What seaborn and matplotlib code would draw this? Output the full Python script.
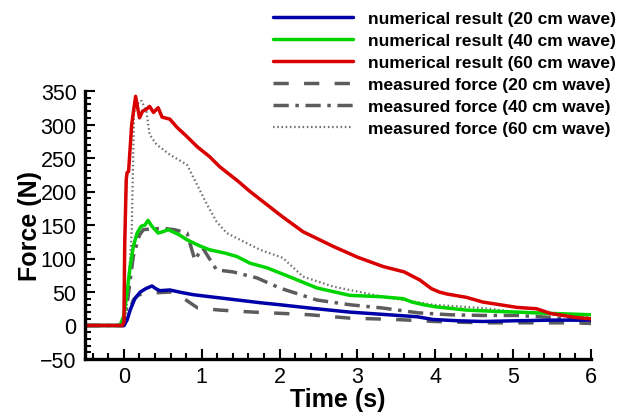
import numpy as np
import pandas as pd
import matplotlib
matplotlib.use("Agg")
import matplotlib.pyplot as plt
from matplotlib.ticker import MultipleLocator
from matplotlib.lines import Line2D
import seaborn as sns

# ---- numerical results ----
t_num20 = [-0.5, 0.0, 0.04, 0.08, 0.14, 0.21, 0.28, 0.36, 0.41, 0.46, 0.59, 0.75, 0.89,
           1.1, 1.32, 1.75, 2.0, 2.39, 2.9, 3.4, 3.77, 3.97, 4.3, 4.61, 5.0, 5.5, 6.0]
f_num20 = [0, 0, 8, 23, 40, 50, 55, 59, 55, 52, 53, 49, 46,
           43, 40, 34, 31, 26, 20, 16, 13, 9, 7, 6, 7, 8, 8]

t_num40 = [-0.5, -0.05, 0.0, 0.04, 0.08, 0.12, 0.17, 0.22, 0.27, 0.31, 0.36, 0.44, 0.5,
           0.57, 0.7, 0.81, 0.95, 1.1, 1.3, 1.45, 1.62, 1.84, 2.1, 2.48, 2.9, 3.3, 3.59,
           3.7, 3.85, 4.0, 4.4, 4.8, 5.05, 5.5, 6.0]
f_num40 = [0, 0, 15, 50, 88, 118, 138, 148, 150, 157, 148, 138, 140,
           143, 136, 128, 120, 113, 108, 103, 93, 86, 74, 56, 45, 43, 40,
           35, 31, 28, 23, 21, 20, 18, 16]

t_num60 = [-0.5, -0.02, 0.0, 0.01, 0.03, 0.04, 0.06, 0.1, 0.15, 0.2, 0.24, 0.28, 0.33,
           0.38, 0.44, 0.49, 0.59, 0.68, 0.8, 0.94, 1.1, 1.23, 1.47, 1.62, 2.04, 2.3,
           2.69, 3.0, 3.33, 3.6, 3.8, 3.95, 4.05, 4.15, 4.4, 4.61, 5.05, 5.3, 5.48, 5.8, 6.0]
f_num60 = [0, 0, 5, 120, 218, 228, 230, 300, 342, 310, 320, 322, 327,
           318, 325, 311, 308, 296, 283, 267, 252, 237, 215, 200, 162, 140,
           118, 102, 88, 80, 68, 55, 50, 47, 42, 35, 27, 25, 18, 12, 10]

# ---- measured forces ----
t_mea20 = [-0.5, 0.0, 0.05, 0.12, 0.18, 0.25, 0.44, 0.6, 0.76, 0.95, 1.23, 1.66, 2.04,
           2.39, 2.9, 3.49, 4.0, 4.61, 5.2, 5.8, 6.0]
f_mea20 = [0, 0, 15, 38, 45, 48, 49, 50, 41, 26, 23, 20, 18,
           16, 11, 9, 6, 4, 4, 4, 3]

t_mea40 = [-0.5, 0.0, 0.05, 0.12, 0.2, 0.25, 0.33, 0.5, 0.65, 0.81, 0.91, 1.01, 1.19,
           1.4, 1.71, 2.0, 2.48, 2.9, 3.33, 3.77, 4.19, 4.6, 5.05, 5.5, 6.0]
f_mea40 = [0, 0, 40, 103, 135, 143, 144, 145, 143, 138, 98, 116, 83,
           80, 71, 56, 38, 31, 26, 19, 16, 15, 15, 12, 6]

t_mea60 = [-0.5, 0.0, 0.03, 0.08, 0.1, 0.13, 0.2, 0.23, 0.29, 0.33, 0.42, 0.59, 0.81,
           0.94, 1.07, 1.19, 1.32, 1.49, 1.75, 2.04, 2.3, 2.69, 3.33, 3.97, 4.61, 5.05,
           5.9, 6.0]
f_mea60 = [0, 0, 20, 100, 140, 319, 335, 335, 319, 285, 270, 255, 240,
           210, 180, 155, 138, 128, 113, 101, 73, 58, 43, 31, 26, 20,
           13, 12]

labels = ["numerical result (20 cm wave)", "numerical result (40 cm wave)",
          "numerical result (60 cm wave)", "measured force (20 cm wave)",
          "measured force (40 cm wave)", "measured force (60 cm wave)"]

x_ticks = [0, 1, 2, 3, 4, 5, 6]
y_ticks = [-50, 0, 50, 100, 150, 200, 250, 300, 350]

sns.set_style("white")
plt.rcParams["font.family"] = ["Liberation Sans", "DejaVu Sans"]
plt.rcParams["text.color"] = "black"
plt.rcParams["axes.labelcolor"] = "black"

fig = plt.figure(figsize=(6.17, 4.14), dpi=100)
ax = fig.add_axes([85 / 617, 1 - 360 / 414, (591 - 85) / 617, (360 - 92) / 414])

grey = "#5c5c5c"
dot_grey = "#707070"
lw = 2.5
lw_dot = 1.6
dash_20 = (0, (4.4, 4.4))
dash_40 = (0, (4.4, 1.9, 1.0, 1.9))
dot_60 = (0, (0.7, 1.2))
series = [
    (t_mea20, f_mea20, grey, lw, dash_20),
    (t_mea40, f_mea40, grey, lw, dash_40),
    (t_mea60, f_mea60, dot_grey, lw_dot, dot_60),
    (t_num20, f_num20, "#0000a8", lw, "-"),
    (t_num40, f_num40, "#00d400", lw, "-"),
    (t_num60, f_num60, "#d80000", lw, "-"),
]

for t, f, col, w, ls in series:
    df = pd.DataFrame({"Time": t, "Force": f})
    sns.lineplot(data=df, x="Time", y="Force", ax=ax, color=col, linewidth=w,
                 linestyle=ls, sort=False, estimator=None, legend=False)

ax.set_xlim(-0.5, 6)
ax.set_ylim(-50, 350)
ax.set_xticks(x_ticks)
ax.set_yticks(y_ticks)
ax.xaxis.set_minor_locator(MultipleLocator(0.2))
ax.yaxis.set_minor_locator(MultipleLocator(10))

for side in ["top", "right"]:
    ax.spines[side].set_visible(False)
for side in ["left", "bottom"]:
    ax.spines[side].set_linewidth(2.4)
    ax.spines[side].set_color("black")

ax.tick_params(which="both", direction="in", bottom=True, left=True, top=False,
               right=False, colors="black", labelcolor="black", width=1.5,
               labelsize=15.5, pad=6)
ax.tick_params(axis="x", which="major", pad=5)
ax.tick_params(which="major", length=7.5)
ax.tick_params(which="minor", length=4)

ax.set_xlabel("Time (s)", fontsize=18, fontweight="bold", labelpad=0, color="black")
ax.set_ylabel("Force (N)", fontsize=18, fontweight="bold", labelpad=-1, color="black")

handles = [Line2D([], [], color=c, lw=w, ls=ls) for _, _, c, w, ls in series[3:]]
handles += [Line2D([], [], color=c, lw=w, ls=ls) for _, _, c, w, ls in series[:3]]
leg = fig.legend(handles, labels, loc="upper left",
                 bbox_to_anchor=(273 / 617, 1 - 12 / 414), bbox_transform=fig.transFigure,
                 frameon=False, borderpad=0, borderaxespad=0, handlelength=4.6,
                 handletextpad=0.85, labelspacing=0.39, labelcolor="black",
                 prop={"family": "Liberation Sans", "weight": "bold", "size": 12.5})

fig.savefig("out.png", dpi=100)
